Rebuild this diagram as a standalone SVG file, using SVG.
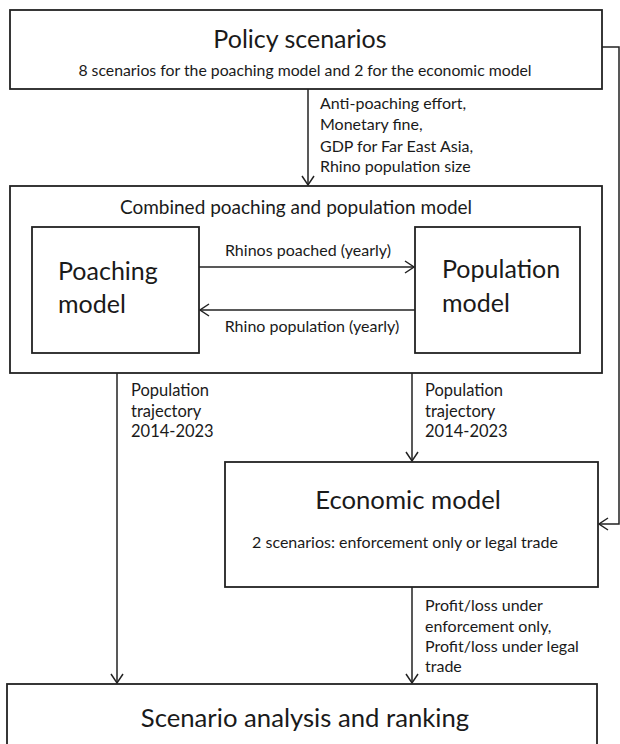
<svg xmlns="http://www.w3.org/2000/svg" width="620" height="744" viewBox="0 0 620 744">
<defs>
<marker id="arr" markerWidth="12" markerHeight="14" refX="10" refY="7" orient="auto" markerUnits="userSpaceOnUse">
<path d="M1,1 L10,7 L1,13" fill="none" stroke="#222" stroke-width="1.5"/>
</marker>
<style>
.box{fill:#fff;stroke:#222;stroke-width:1.8}
.ln{fill:none;stroke:#222;stroke-width:1.5}
text{font-family:Lato,"Open Sans","Liberation Sans",sans-serif;fill:#1a1a1a}
.big{font-size:25px}
.big2{font-size:25.7px}
.mid{font-size:19px}
.sm{font-size:16px}
.sub{font-size:15.8px}
.lab{font-size:16.5px}
.c{text-anchor:middle}
</style>
</defs>
<rect width="620" height="744" fill="#fff"/>
<g id="connectors">
<path class="ln" d="M308,89 V185" marker-end="url(#arr)"/>
<path class="ln" d="M199,267 H414" marker-end="url(#arr)"/>
<path class="ln" d="M415,310 H200" marker-end="url(#arr)"/>
<path class="ln" d="M117,373 V683" marker-end="url(#arr)"/>
<path class="ln" d="M412,373 V461" marker-end="url(#arr)"/>
<path class="ln" d="M412,587 V683" marker-end="url(#arr)"/>
<path class="ln" d="M602,47 H619 V524 H599" marker-end="url(#arr)"/>
<g class="sm">
<text x="320" y="109">Anti-poaching effort,</text>
<text x="320" y="130">Monetary fine,</text>
<text x="320" y="152">GDP for Far East Asia,</text>
<text x="320" y="172">Rhino population size</text>
<text class="c" x="308" y="256">Rhinos poached (yearly)</text>
<text class="c" x="312" y="332">Rhino population (yearly)</text>
<text x="425" y="611">Profit/loss under</text>
<text x="425" y="632">enforcement only,</text>
<text x="425" y="652">Profit/loss under legal</text>
<text x="425" y="672">trade</text>
</g>
<g class="lab">
<text x="131" y="396">Population</text>
<text x="131" y="416.5">trajectory</text>
<text x="131" y="437">2014-2023</text>
<text x="425" y="396">Population</text>
<text x="425" y="416.5">trajectory</text>
<text x="425" y="437">2014-2023</text>
</g>
</g>
<g id="policy">
<rect class="box" x="10" y="10" width="592" height="79"/>
<text class="big c" x="300" y="48">Policy scenarios</text>
<text class="sub c" x="305" y="76">8 scenarios for the poaching model and 2 for the economic model</text>
</g>
<g id="combined">
<rect class="box" x="10" y="186" width="592" height="187" style="fill:none"/>
<text class="mid c" x="296" y="214">Combined poaching and population model</text>
</g>
<g id="poaching">
<rect class="box" x="32" y="227" width="167" height="126"/>
<text class="big" x="58" y="280">Poaching</text>
<text class="big" x="58" y="313">model</text>
</g>
<g id="population">
<rect class="box" x="415" y="227" width="165" height="126"/>
<text class="big" x="442" y="278">Population</text>
<text class="big" x="442" y="312">model</text>
</g>
<g id="economic">
<rect class="box" x="225" y="462" width="373" height="125"/>
<text class="big2 c" x="408" y="509">Economic model</text>
<text class="sm c" x="405" y="548">2 scenarios: enforcement only or legal trade</text>
</g>
<g id="scenario">
<rect class="box" x="7" y="684" width="590" height="80"/>
<text class="big2 c" x="305" y="727">Scenario analysis and ranking</text>
</g>
</svg>
